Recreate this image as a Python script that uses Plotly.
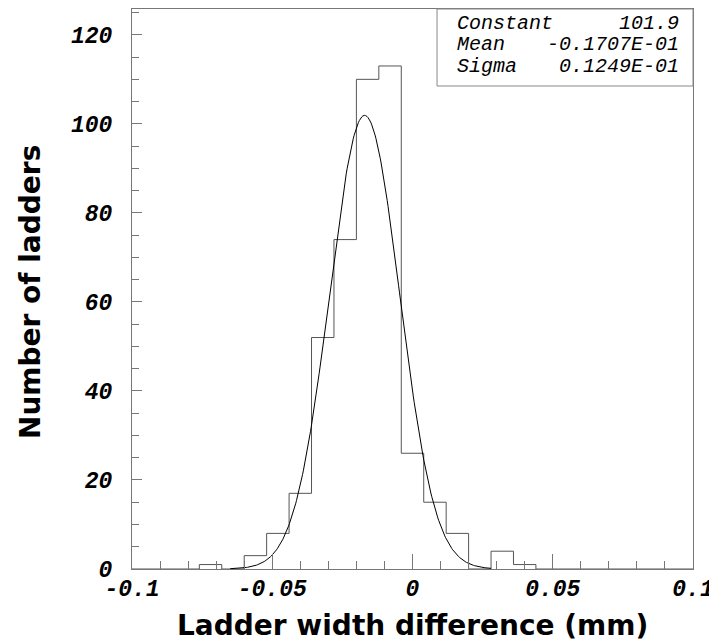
import numpy as np
import plotly.graph_objects as go

# histogram: 25 bins of 0.008 from -0.1 to 0.1
BIN_LO = -0.1
BIN_WIDTH = 0.008
COUNTS = [0, 0, 0, 1, 0, 3, 8, 17, 52, 74, 110, 113, 26, 15, 8, 0, 4, 1, 0, 0, 0, 0, 0, 0, 0]

# gaussian fit
FIT_CONST = 101.9
FIT_MEAN = -0.1707e-01
FIT_SIGMA = 0.1249e-01
FIT_RANGE = [-0.065, 0.028]

STAT_NAMES = ["Constant", "Mean", "Sigma"]
STAT_VALUES = ["101.9", "-0.1707E-01", "0.1249E-01"]

X_TICKS = [-0.1, -0.05, 0, 0.05, 0.1]
X_TICK_LABELS = ["-0.1", "-0.05", "0", "0.05", "0.1"]
Y_TICKS = [0, 20, 40, 60, 80, 100, 120]

edges = BIN_LO + BIN_WIDTH * np.arange(len(COUNTS) + 1)
xs = list(edges)
ys = COUNTS + [COUNTS[-1]]

xf = np.linspace(FIT_RANGE[0], FIT_RANGE[1], 300)
yf = FIT_CONST * np.exp(-0.5 * ((xf - FIT_MEAN) / FIT_SIGMA) ** 2)

tick_font = dict(family="Liberation Mono", size=23, color="black",
                 style="italic", weight="bold")
title_font = dict(family="DejaVu Sans", size=28, color="black", weight="bold")

fig = go.Figure()
fig.add_trace(go.Scatter(x=xs, y=ys, mode="lines", line_shape="hv",
                         line=dict(color="#555555", width=1), hoverinfo="skip"))
fig.add_trace(go.Scatter(x=xf, y=yf, mode="lines",
                         line=dict(color="black", width=1), hoverinfo="skip"))

# stats box
fig.add_shape(type="rect", xref="paper", yref="paper",
              x0=0.5437, x1=1.0, y0=0.8625, y1=1.0,
              line=dict(color="#888888", width=1), fillcolor="white", layer="above")
row_y = [0.975, 0.936, 0.897]
stat_font = dict(family="Liberation Mono", size=20, color="black", style="italic")
for name, val, yy in zip(STAT_NAMES, STAT_VALUES, row_y):
    fig.add_annotation(xref="paper", yref="paper", x=0.5758, y=yy, text=name,
                       showarrow=False, xanchor="left", yanchor="middle", font=stat_font)
    fig.add_annotation(xref="paper", yref="paper", x=0.9786, y=yy, text=val,
                       showarrow=False, xanchor="right", yanchor="middle", font=stat_font)

# axis titles
fig.add_annotation(xref="paper", yref="paper", x=0.5, y=-0.1,
                   text="Ladder width difference (mm)", showarrow=False,
                   xanchor="center", yanchor="middle", font=title_font)
fig.add_annotation(xref="paper", yref="paper", x=-0.1818, y=0.4946,
                   text="Number of ladders", showarrow=False, textangle=-90,
                   xanchor="center", yanchor="middle", font=title_font)

# page body adds an 8px offset, so the figure is 8px smaller than the window
fig.update_layout(
    width=709, height=636,
    margin=dict(l=124, r=24, t=1, b=75),
    plot_bgcolor="white", paper_bgcolor="white",
    showlegend=False,
)
fig.update_xaxes(
    range=[-0.1, 0.1], showgrid=False, zeroline=False, automargin=False,
    showline=True, linecolor="#777777", linewidth=1, mirror=True,
    tickvals=X_TICKS, ticktext=X_TICK_LABELS, ticklabelstandoff=-2,
    ticks="inside", ticklen=15, tickcolor="#777777", tickfont=tick_font,
    minor=dict(dtick=0.01, ticks="inside", ticklen=8, tickcolor="#777777", showgrid=False),
)
fig.update_yaxes(
    range=[0, 125.8], showgrid=False, zeroline=False, automargin=False,
    showline=True, linecolor="#777777", linewidth=1, mirror=True,
    tickvals=Y_TICKS, ticklabelstandoff=14,
    ticks="inside", ticklen=10, tickcolor="#777777", tickfont=tick_font,
    minor=dict(dtick=5, ticks="inside", ticklen=7, tickcolor="#777777", showgrid=False),
)

fig.write_html("out.html")
